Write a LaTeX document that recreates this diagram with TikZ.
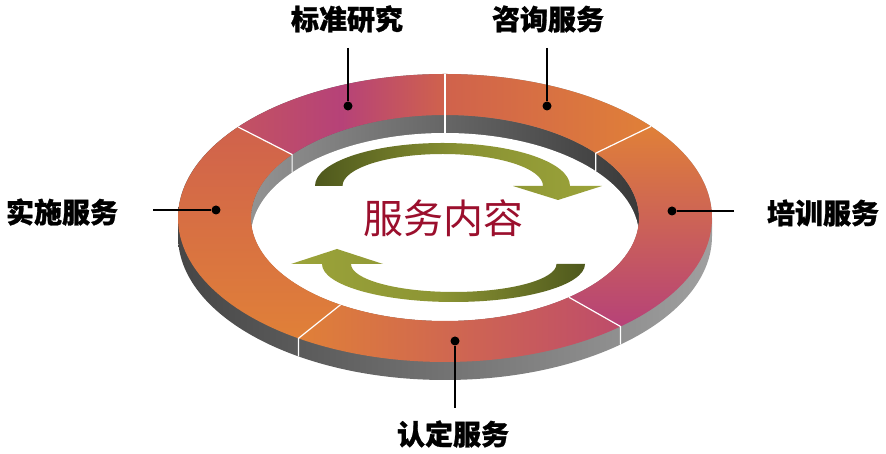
\documentclass[tikz,border=0pt]{standalone}
\usepackage{fontspec}
\newfontfamily\cjk{Noto Sans CJK SC}
\newfontfamily\cjkheavy[BoldFeatures={FakeBold=1}]{Noto Sans CJK SC}
\definecolor{ringor}{RGB}{224,128,56}
\definecolor{ringmg}{RGB}{182,66,120}
\definecolor{ringrd}{RGB}{208,98,76}
\definecolor{olivedk}{RGB}{78,88,28}
\definecolor{olivelt}{RGB}{156,164,58}
\definecolor{textrd}{RGB}{155,15,45}
\newcommand{\ringseg}[4]{(#1:267 and 144) arc[start angle=#1,end angle=#2,x radius=267,y radius=144]
  -- (#4:194 and 103) arc[start angle=#4,end angle=#3,x radius=194,y radius=103] -- cycle}
\tikzset{
  lab/.style={font=\cjkheavy\bfseries\fontsize{28}{30}\selectfont, inner sep=0pt},
  pin dot/.style={circle, fill=black, inner sep=0pt, minimum size=9pt},
  divide/.style={white, line width=1.2pt},
  lead/.style={line width=1.1pt}
}
\begin{document}
\begin{tikzpicture}[x=1pt, y=1pt]
    \useasboundingbox (0,0) rectangle (886,454);
    \begin{scope}[shift={(445,236)}]
        \shade[left color=gray!55!black, right color=gray!75](-267,0)--(-267,-18)
            arc[start angle=180,end angle=360,x radius=267,y radius=144]--(267,0)
            arc[start angle=0,end angle=180,x radius=267,y radius=144]--cycle;
        \shade[left color=gray!85, right color=gray!45!black](0,0) ellipse[x radius=194,y radius=103];
        \begin{scope}
            \clip(0,0) ellipse[x radius=194,y radius=103];
            \fill[white](0,-18) ellipse[x radius=194,y radius=103];
        \end{scope}
        \shade[left color=ringrd!50!ringmg, right color=ringrd, middle color=ringmg]\ringseg{90}{140.8}{90}{142};
        \shade[left color=ringrd, right color=ringor]\ringseg{39.5}{90}{39}{90};
        \shade[top color=ringor, bottom color=ringmg]\ringseg{-48.9}{39.5}{-50.3}{39};
        \shade[left color=ringor, right color=ringmg!70!ringrd]\ringseg{-123.3}{-48.9}{-122.6}{-50.3};
        \shade[top color=ringrd, bottom color=ringor]\ringseg{140.8}{236.7}{142}{237.4};
        \foreach \a/\b in {90/90, 39.5/39, 140.8/142}
            \draw[divide](\a:267 and 144)--(\b:194 and 103)--++(0,-18);
        \foreach \a/\b in {-123.3/-122.6, -48.9/-50.3}
            \draw[divide](\b:194 and 103)--(\a:267 and 144)--++(0,-18);
    \end{scope}
    \shade[left color=olivedk, right color=olivelt, middle color=olivelt!75!olivedk](315,268)
        arc[start angle=180,end angle=0,x radius=127.5,y radius=43]
        --(602,268)--(558,254)--(513,268)--(543,268)
        arc[start angle=0,end angle=180,x radius=100.25,y radius=32]--cycle;
    \shade[left color=olivelt, right color=olivedk, middle color=olivelt!80!olivedk](585,190)
        arc[start angle=0,end angle=-180,x radius=131.5,y radius=38]
        --(291,190)--(337,205)--(383,190)--(351,190)
        arc[start angle=180,end angle=360,x radius=102.75,y radius=28]--cycle;
    \node[font=\cjk\fontsize{40}{44}\selectfont, text=textrd, inner sep=0pt] (fwnr) at (443,236) {服务内容};

    \node[lab] (std) at (347,435) {标准研究};
    \node[lab] (zx) at (548,435) {咨询服务};
    \node[lab] (ss) at (62,242) {实施服务};
    \node[lab] (px) at (823,241) {培训服务};
    \node[lab] (rd) at (453,20) {认定服务};
    \node[pin dot] (dstd) at (348,348) {};
    \node[pin dot] (dzx) at (547,348) {};
    \node[pin dot] (dss) at (216,244) {};
    \node[pin dot] (dpx) at (672,243) {};
    \node[pin dot] (drd) at (455,113) {};
    \coordinate (estd) at (348,406);
    \coordinate (ezx) at (547,406);
    \coordinate (ess) at (153,244);
    \coordinate (epx) at (734,243);
    \coordinate (erd) at (455,46);
    \draw[lead](estd)--(dstd);
    \draw[lead](ezx)--(dzx);
    \draw[lead](ess)--(dss);
    \draw[lead](epx)--(dpx);
    \draw[lead](erd)--(drd);
\end{tikzpicture}
\end{document}
